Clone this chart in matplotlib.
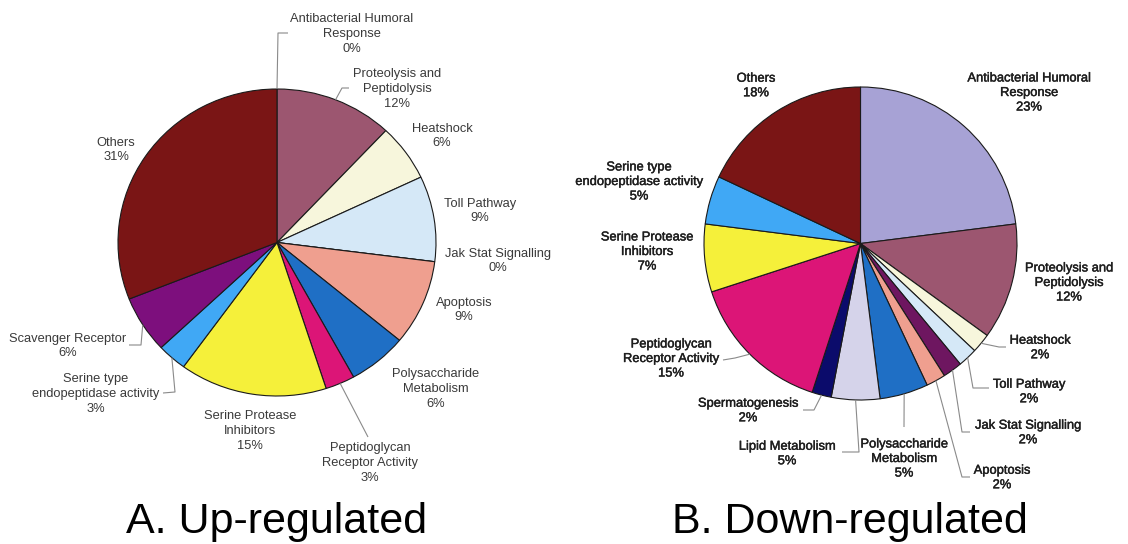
import matplotlib
matplotlib.use("Agg")
import matplotlib.pyplot as plt
import matplotlib.patheffects as pe
import numpy as np

W, H = 1128, 544

# ---- data -------------------------------------------------------------
up_labels = ["Antibacterial Humoral\nResponse", "Proteolysis and\nPeptidolysis",
             "Heatshock", "Toll Pathway", "Jak Stat Signalling", "Apoptosis",
             "Polysaccharide\nMetabolism", "Peptidoglycan\nReceptor Activity",
             "Serine Protease\nInhibitors", "Serine type\nendopeptidase activity",
             "Scavenger Receptor", "Others"]
up_values = [0, 12, 6, 9, 0, 9, 6, 3, 15, 3, 6, 31]

down_labels = ["Antibacterial Humoral\nResponse", "Proteolysis and\nPeptidolysis",
               "Heatshock", "Toll Pathway", "Jak Stat Signalling", "Apoptosis",
               "Polysaccharide\nMetabolism", "Lipid Metabolism", "Spermatogenesis",
               "Peptidoglycan\nReceptor Activity", "Serine Protease\nInhibitors",
               "Serine type\nendopeptidase activity", "Others"]
down_values = [23, 12, 2, 2, 2, 2, 5, 5, 2, 15, 7, 5, 18]

panel_titles = ["A. Up-regulated", "B. Down-regulated"]

# ---- styling ----------------------------------------------------------
palette = {
    "Antibacterial Humoral\nResponse": "#A7A2D5",
    "Proteolysis and\nPeptidolysis": "#9C5670",
    "Heatshock": "#F7F6DC",
    "Toll Pathway": "#D5E8F7",
    "Jak Stat Signalling": "#6E1660",
    "Apoptosis": "#EF9F8F",
    "Polysaccharide\nMetabolism": "#1F6FC5",
    "Peptidoglycan\nReceptor Activity": "#DC1577",
    "Serine Protease\nInhibitors": "#F5F03A",
    "Serine type\nendopeptidase activity": "#40A8F5",
    "Scavenger Receptor": "#7D0F7D",
    "Lipid Metabolism": "#D5D3EA",
    "Spermatogenesis": "#0B0B6B",
    "Others": "#7A1515",
}

# label centre (px, top-left origin) and leader-line waypoints
up_layout = {
    "Antibacterial Humoral\nResponse": ((352, 34), [(278, 33), (288, 33)]),
    "Proteolysis and\nPeptidolysis": ((397, 89), [(342, 88), (349, 88)]),
    "Heatshock": ((442, 136), None),
    "Toll Pathway": ((480, 211), None),
    "Jak Stat Signalling": ((498, 261), None),
    "Apoptosis": ((464, 310), None),
    "Polysaccharide\nMetabolism": ((436, 389), None),
    "Peptidoglycan\nReceptor Activity": ((370, 463), [(368, 437)]),
    "Serine Protease\nInhibitors": ((250, 431), None),
    "Serine type\nendopeptidase activity": ((96, 394), [(175, 392), (163, 393)]),
    "Scavenger Receptor": ((68, 346), [(141, 345), (129, 345)]),
    "Others": ((116, 150), None),
}
down_layout = {
    "Antibacterial Humoral\nResponse": ((1029, 93), None),
    "Proteolysis and\nPeptidolysis": ((1069, 283), None),
    "Heatshock": ((1040, 348), [(999, 347), (1006, 347)]),
    "Toll Pathway": ((1029, 392), [(973, 388), (989, 388)]),
    "Jak Stat Signalling": ((1028, 433), [(962, 432), (970, 432)]),
    "Apoptosis": ((1002, 478), [(962, 477), (970, 477)]),
    "Polysaccharide\nMetabolism": ((904, 459), [(904, 427)]),
    "Lipid Metabolism": ((787, 454), [(859, 452), (842, 452)]),
    "Spermatogenesis": ((748, 411), [(814, 410), (803, 410)]),
    "Peptidoglycan\nReceptor Activity": ((671, 359), [(735, 358), (723, 360)]),
    "Serine Protease\nInhibitors": ((647, 252), None),
    "Serine type\nendopeptidase activity": ((639, 182), None),
    "Others": ((756, 86), None),
}

FONT = ["Liberation Sans", "DejaVu Sans"]

fig = plt.figure(figsize=(W / 100, H / 100), dpi=100)
fig.patch.set_facecolor("white")


def draw_panel(labels, values, layout, cx, cy, rx, ry, text_color, stroke):
    ax = fig.add_axes([(cx - rx) / W, 1 - (cy + ry) / H, 2 * rx / W, 2 * ry / H])
    wedges, _ = ax.pie(values, colors=[palette[l] for l in labels], startangle=90,
                       counterclock=False, radius=1, normalize=True,
                       wedgeprops=dict(edgecolor="#1a1a1a", linewidth=0.8, clip_on=False))
    ax.set_xlim(-1, 1)
    ax.set_ylim(-1, 1)
    ax.set_aspect("auto")
    ax.axis("off")

    total = float(sum(values))
    for lab, val, w in zip(labels, values, wedges):
        (tx, ty), pts = layout[lab]
        pct = f"{round(100 * val / total):.0f}%"
        effects = [pe.withStroke(linewidth=stroke, foreground=text_color)] if stroke else None
        overlay.text(tx, ty, f"{lab}\n{pct}", ha="center", va="center",
                     fontsize=9.3, family=FONT, color=text_color,
                     linespacing=1.28, path_effects=effects)
        if pts:
            mid = np.deg2rad((w.theta1 + w.theta2) / 2)
            sx = cx + rx * np.cos(mid)
            sy = cy - ry * np.sin(mid)
            xs = [sx] + [p[0] for p in pts]
            ys = [sy] + [p[1] for p in pts]
            overlay.plot(xs, ys, color="#8a8a8a", lw=0.8, solid_capstyle="butt")


overlay = fig.add_axes([0, 0, 1, 1], zorder=5)
overlay.set_xlim(0, W)
overlay.set_ylim(H, 0)
overlay.axis("off")
overlay.patch.set_alpha(0)

draw_panel(up_labels, up_values, up_layout, 277, 242.5, 159, 153.5, "#3a3a3a", 0)
draw_panel(down_labels, down_values, down_layout, 860.5, 243.5, 156.5, 156.5, "#1e1e1e", 0.3)

overlay.text(277, 533, panel_titles[0], ha="center", va="baseline",
             fontsize=31, family=FONT, color="black")
overlay.text(850, 533, panel_titles[1], ha="center", va="baseline",
             fontsize=31, family=FONT, color="black")

fig.savefig("out.png", dpi=100, facecolor="white")
